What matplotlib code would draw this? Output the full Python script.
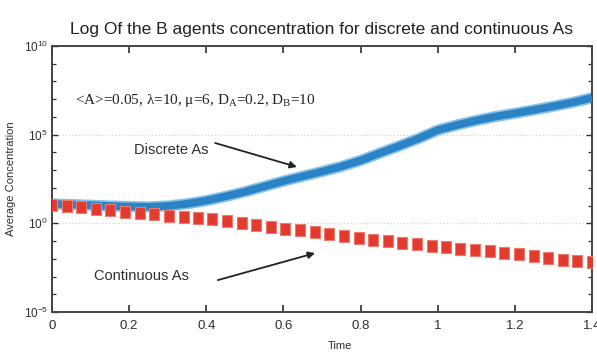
import numpy as np
import matplotlib
matplotlib.use('Agg')
import matplotlib.pyplot as plt
from matplotlib.ticker import FixedLocator, NullFormatter

plt.rcParams['font.family'] = ['Liberation Sans Narrow', 'Liberation Sans', 'DejaVu Sans']
plt.rcParams['mathtext.fontset'] = 'custom'
plt.rcParams['mathtext.rm'] = 'Liberation Sans'

# discrete As, sampled every 0.05
t_discrete = [0.0, 0.05, 0.1, 0.15, 0.2, 0.25, 0.3, 0.35, 0.4, 0.45,
              0.5, 0.55, 0.6, 0.65, 0.7, 0.75, 0.8, 0.85, 0.9, 0.95,
              1.0, 1.05, 1.1, 1.15, 1.2, 1.25, 1.3, 1.35, 1.4]
b_discrete = [12.3, 11.5, 10.5, 9.5, 8.9, 8.5, 9.5, 12.6, 19, 33,
              60, 120, 240, 450, 830, 1.6e3, 3.5e3, 9.1e3, 2.3e4, 6.0e4,
              1.8e5, 3.5e5, 6.3e5, 1.05e6, 1.6e6, 2.5e6, 4.0e6, 6.6e6, 1.2e7]

# continuous As, 38 samples over [0, 1.4]
t_cont = [0.000, 0.038, 0.076, 0.114, 0.151, 0.189, 0.227, 0.265, 0.303, 0.341,
          0.378, 0.416, 0.454, 0.492, 0.530, 0.568, 0.605, 0.643, 0.681, 0.719,
          0.757, 0.795, 0.832, 0.870, 0.908, 0.946, 0.984, 1.022, 1.059, 1.097,
          1.135, 1.173, 1.211, 1.249, 1.286, 1.324, 1.362, 1.400]
b_cont = [11.2, 9.5, 7.9, 6.6, 5.5, 4.5, 3.7, 3.2, 2.7, 2.3,
          2.0, 1.66, 1.35, 1.05, 0.83, 0.66, 0.50, 0.40, 0.32, 0.25,
          0.19, 0.14, 0.11, 0.095, 0.079, 0.066, 0.052, 0.044, 0.036, 0.030,
          0.026, 0.022, 0.018, 0.014, 0.011, 0.0089, 0.0076, 0.0066]

x_ticks = [0, 0.2, 0.4, 0.6, 0.8, 1.0, 1.2, 1.4]
x_labels = ['0', '0.2', '0.4', '0.6', '0.8', '1', '1.2', '1.4']
y_ticks = [1e-5, 1e0, 1e5, 1e10]
y_labels = [r'$10^{-5}$', r'$10^{0}$', r'$10^{5}$', r'$10^{10}$']

ink = '#2e2e2e'

fig = plt.figure(figsize=(5.97, 3.58), dpi=100)
ax = fig.add_axes([0.0871, 0.1285, 0.9045, 0.743])

# blue curve with a soft edge
ax.plot(t_discrete, b_discrete, '-', color='#86c2ea', lw=8, solid_capstyle='butt', zorder=2)
ax.plot(t_discrete, b_discrete, '-', color='#2b82c4', lw=5.5, solid_capstyle='butt', zorder=3)

# slightly tall square markers
box = [(-0.75, -1), (0.75, -1), (0.75, 1), (-0.75, 1), (-0.75, -1)]
ax.plot(t_cont, b_cont, linestyle='none', marker=box, color='#e23a2e', markersize=9,
        markeredgecolor='#f07a6e', markeredgewidth=0.8, zorder=4)

ax.set_yscale('log')
ax.set_xlim(0, 1.4)
ax.set_ylim(1e-5, 1e10)

ax.set_xticks(x_ticks)
ax.set_xticklabels(x_labels)
ax.yaxis.set_major_locator(FixedLocator(y_ticks))
ax.set_yticklabels(y_labels)
ax.yaxis.set_minor_locator(FixedLocator([10.0 ** k for k in range(-5, 11)]))
ax.yaxis.set_minor_formatter(NullFormatter())

ax.tick_params(which='both', direction='in', top=True, right=True, colors=ink)
ax.tick_params(axis='x', which='major', length=5, width=1.2, pad=6, labelsize=9.5)
ax.tick_params(axis='y', which='major', length=4, width=1.0, pad=3, labelsize=8.5)
ax.tick_params(axis='y', which='minor', length=3, width=0.9)
for s in ax.spines.values():
    s.set_color('#444444')
    s.set_linewidth(1.4)

ax.grid(axis='y', which='major', color='#d6d6d6', linestyle=':', lw=0.9)

ax.set_title('Log Of the B agents concentration for discrete and continuous As',
             fontsize=12.5, color='#222222', pad=9)
ax.set_xlabel('Time', fontsize=8, color=ink)
ax.xaxis.set_label_coords(0.533, -0.11)
ax.set_ylabel('Average Concentration', fontsize=8, color=ink)
ax.yaxis.set_label_coords(-0.066, 0.5)

ax.text(0.06, 10 ** 6.95, '<A>=0.05, \u03bb=10, \u03bc=6, D$_\\mathregular{A}$=0.2, D$_\\mathregular{B}$=10',
        fontsize=11, family=['Liberation Serif', 'DejaVu Serif'], color='#222222', va='center')

ax.text(0.309, 10 ** 4.13, 'Discrete As', fontsize=10.5, color=ink, ha='center', va='center')
ax.text(0.231, 10 ** -2.97, 'Continuous As', fontsize=10.5, color=ink, ha='center', va='center')

arrow = dict(arrowstyle='-|>', color='#222222', lw=1.3, mutation_scale=10, shrinkA=0, shrinkB=0)
ax.annotate('', xy=(0.635, 10 ** 3.18), xytext=(0.423, 10 ** 4.53), arrowprops=arrow)
ax.annotate('', xy=(0.682, 10 ** -1.68), xytext=(0.43, 10 ** -3.2), arrowprops=arrow)

fig.savefig('out.png', dpi=100)
